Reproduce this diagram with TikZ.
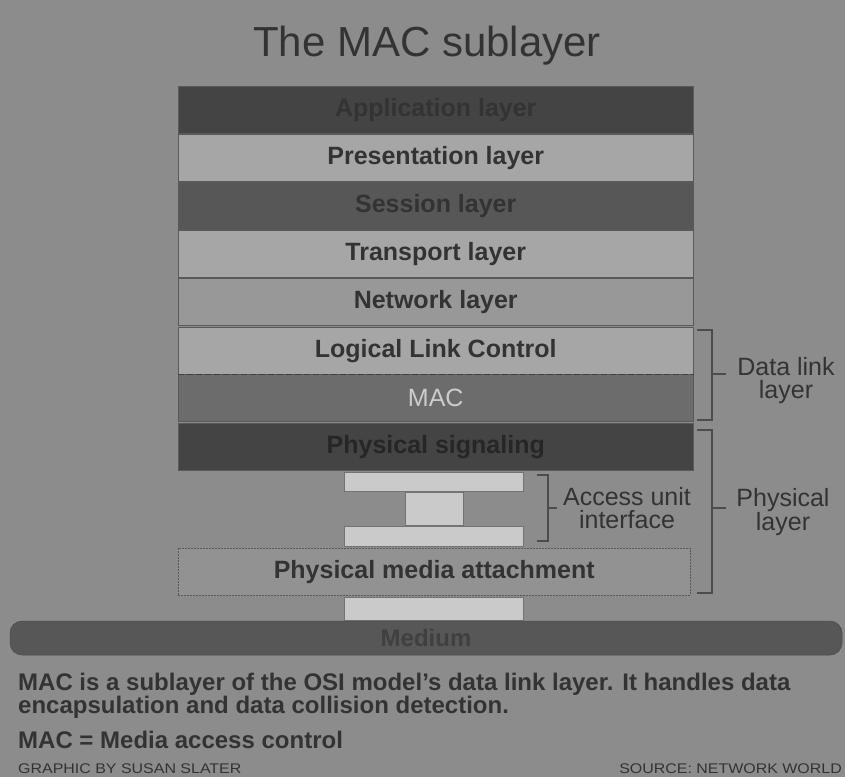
\documentclass[tikz,border=0pt]{standalone}
\usepackage{fontspec}
\setmainfont{Liberation Sans}
\newfontfamily\widefont[FakeStretch=1.14]{Liberation Sans}
\definecolor{bg}{HTML}{8C8C8C}
\definecolor{ink}{HTML}{333333}
\definecolor{dk1}{HTML}{444444}
\definecolor{dk2}{HTML}{575757}
\definecolor{lt1}{HTML}{A6A6A6}
\definecolor{lt2}{HTML}{989898}
\definecolor{mac}{HTML}{6C6C6C}
\definecolor{pale}{HTML}{CACACA}
\definecolor{pma}{HTML}{929292}
\begin{document}
\begin{tikzpicture}[x=1pt,y=-1pt,
  layer/.style={draw=black!65, line width=0.5pt, minimum width=515pt, minimum height=47pt,
     inner sep=0pt, anchor=north west, text=ink,
     font=\bfseries\fontsize{25}{25}\selectfont},
  conn/.style={fill=pale, draw=black!55, line width=0.4pt, inner sep=0pt, anchor=north west},
  brk/.style={draw=black!70, line width=1.1pt},
  side/.style={align=center, text=ink, font=\fontsize{25}{23}\selectfont, inner sep=0pt},
  body/.style={anchor=west, text=ink, inner sep=0pt, font=\bfseries\fontsize{24}{24}\selectfont},
  credit/.style={inner sep=0pt, text=ink, font=\widefont\fontsize{14}{14}\selectfont}]
\useasboundingbox (0,0) rectangle (845,777);
\fill[bg] (0,0) rectangle (845,777);
\node[text=ink, font=\fontsize{42}{42}\selectfont, inner sep=0pt] (title) at (427,46) {The MAC sublayer};
\node[layer, fill=dk1, text=black!80] (app) at (178,86) {Application layer};
\node[layer, fill=lt1] (pres) at (178,134) {Presentation layer};
\node[layer, fill=dk2, text=black!80] (sess) at (178,182) {Session layer};
\node[layer, fill=lt1] (trans) at (178,230) {Transport layer};
\node[layer, fill=lt2] (net) at (178,278) {Network layer};
\node[layer, fill=lt1] (llc) at (178,327) {Logical Link Control};
\node[layer, fill=mac, text=black!20, font=\fontsize{25}{25}\selectfont] (mac) at (178,374) {MAC};
\draw[black!75, line width=1pt, dash pattern=on 6pt off 3pt] (llc.south west) -- (llc.south east);
\node[layer, fill=dk1, text=black!85] (phys) at (178,423) {Physical signaling};
\node[conn, minimum width=179pt, minimum height=19pt] (aui1) at (344,472) {};
\node[conn, minimum width=58pt, minimum height=33pt] (aui2) at (405,492) {};
\node[conn, minimum width=179pt, minimum height=20pt] (aui3) at (344,526) {};
\node[layer, fill=pma, minimum width=512pt, dash pattern=on 2pt off 1pt] (pmanode) at (178,548) {Physical media attachment};
\node[conn, minimum width=179pt, minimum height=23pt] (aui4) at (344,597) {};
\node[fill=dk2, draw=black!70, line width=0.5pt, rounded corners=12pt, minimum width=832pt, minimum height=34pt,
  inner sep=0pt, text=black!75, font=\bfseries\fontsize{24}{24}\selectfont] (medium) at (426,638) {Medium};
% brackets
\draw[brk] (697,330) -- (712,330) -- (712,420) -- (697,420);
\draw[brk] (712,374) -- (726,374);
\node[side] (dll) at (786,381) {Data link\\layer};
\draw[brk] (697,430) -- (712,430) -- (712,593) -- (697,593);
\draw[brk] (712,508) -- (726,508);
\node[side] (pl) at (783,512) {Physical\\layer};
\draw[brk] (537,475) -- (548,475) -- (548,541) -- (537,541);
\draw[brk] (548,508) -- (557,508);
\node[side] (auil) at (627,508) {Access unit\\interface};
% text
\node[body] (t1) at (18,684) {MAC is a sublayer of the OSI model's data link layer. It handles data};
\node[body] (t2) at (18,707) {encapsulation and data collision detection.};
\node[body] (t3) at (18,740) {MAC = Media access control};
\node[credit, anchor=west] (g) at (18,769) {GRAPHIC BY SUSAN SLATER};
\node[credit, anchor=east] (s) at (842,769) {SOURCE: NETWORK WORLD};
\end{tikzpicture}
\end{document}
